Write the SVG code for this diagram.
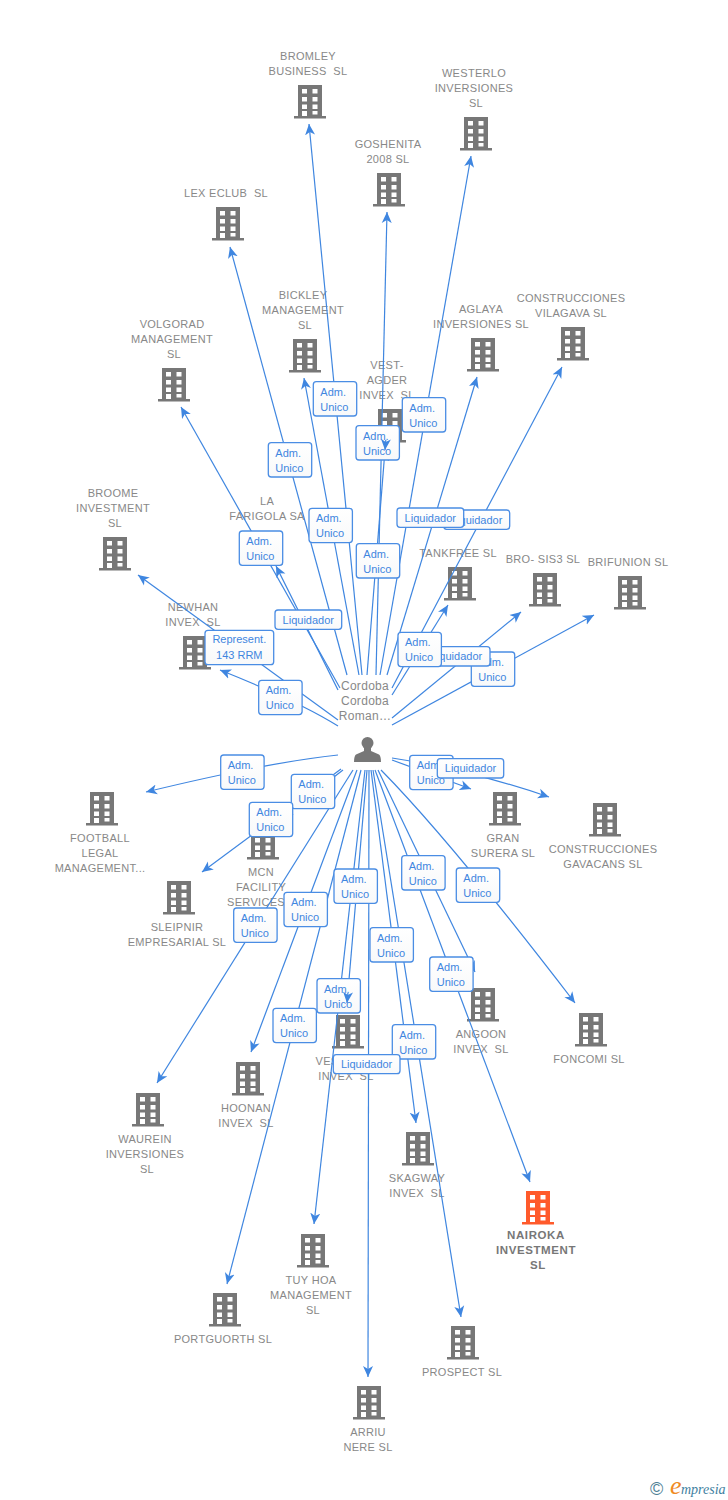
<svg xmlns="http://www.w3.org/2000/svg" width="728" height="1500" viewBox="0 0 728 1500">
<style>
text{font-family:"Liberation Sans",Arial,sans-serif}
.n{font-size:11px;letter-spacing:.3px;fill:#888;text-anchor:middle;white-space:pre}
.c{fill:none;stroke:#3f86e0;stroke-width:1.2}
.c,.a{marker-end:url(#ah)}
.a{fill:none;stroke:#3f86e0;stroke-width:1.2}
.b{fill:url(#bg);stroke:#4a8de4;stroke-width:1.3}
.t{font-size:11px;fill:#3f86e0}
</style>
<defs>
<marker id="ah" markerUnits="userSpaceOnUse" markerWidth="12" markerHeight="12" refX="11" refY="5.5" orient="auto"><path d="M11,5.5 L0,0.5 L3,5.5 L0,10.5 Z" fill="#3f86e0"/></marker>
<linearGradient id="bg" x1="0" y1="0" x2="0" y2="1"><stop offset="0" stop-color="#fff"/><stop offset="1" stop-color="#f8f9fa"/></linearGradient>
<g id="bld"><rect x="-12" y="0" width="24" height="31" fill="currentColor"/><rect x="-16" y="31" width="32" height="2.5" fill="currentColor"/><g fill="#fff"><rect x="-8" y="4" width="5" height="4.5"/><rect x="2.5" y="4" width="5" height="4.5"/><rect x="-8" y="12" width="5" height="4.5"/><rect x="2.5" y="12" width="5" height="4.5"/><rect x="-8" y="19.5" width="5" height="4.5"/><rect x="2.5" y="19.5" width="5" height="4.5"/><rect x="-8" y="26" width="5" height="5"/><rect x="2.5" y="26" width="5" height="3.5"/></g></g>
</defs>
<rect width="728" height="1500" fill="#fff"/>
<g id="nodes" color="#777">
<g id="n-bromley"><use href="#bld" x="310" y="85"/><text class="n" x="308"><tspan x="308" y="60">BROMLEY</tspan><tspan x="308" y="75">BUSINESS  SL</tspan></text></g>
<g id="n-westerlo"><use href="#bld" x="476" y="117"/><text class="n"><tspan x="474" y="77">WESTERLO</tspan><tspan x="474" y="92">INVERSIONES</tspan><tspan x="476" y="107">SL</tspan></text></g>
<g id="n-goshenita"><use href="#bld" x="389" y="173"/><text class="n"><tspan x="388" y="148">GOSHENITA</tspan><tspan x="388" y="163">2008 SL</tspan></text></g>
<g id="n-lex"><use href="#bld" x="228" y="207"/><text class="n" x="226" y="197">LEX ECLUB  SL</text></g>
<g id="n-bickley"><use href="#bld" x="305" y="339"/><text class="n"><tspan x="303" y="299">BICKLEY</tspan><tspan x="303" y="314">MANAGEMENT</tspan><tspan x="305" y="329">SL</tspan></text></g>
<g id="n-aglaya"><use href="#bld" x="483" y="338"/><text class="n"><tspan x="481" y="313">AGLAYA</tspan><tspan x="481" y="328">INVERSIONES SL</tspan></text></g>
<g id="n-vilagava"><use href="#bld" x="573" y="327"/><text class="n"><tspan x="571" y="302">CONSTRUCCIONES</tspan><tspan x="571" y="317">VILAGAVA SL</tspan></text></g>
<g id="n-volgorad"><use href="#bld" x="174" y="368"/><text class="n"><tspan x="172" y="328">VOLGORAD</tspan><tspan x="172" y="343">MANAGEMENT</tspan><tspan x="174" y="358">SL</tspan></text></g>
<g id="n-vest"><use href="#bld" x="390" y="409"/><text class="n"><tspan x="387" y="369">VEST-</tspan><tspan x="387" y="384">AGDER</tspan><tspan x="387" y="399">INVEX  SL</tspan></text></g>
<g id="n-broome"><use href="#bld" x="115" y="537"/><text class="n"><tspan x="113" y="497">BROOME</tspan><tspan x="113" y="512">INVESTMENT</tspan><tspan x="115" y="527">SL</tspan></text></g>
<g id="n-farigola"><use href="#bld" x="267" y="531"/><text class="n"><tspan x="267" y="505">LA</tspan><tspan x="267" y="520">FARIGOLA SA</tspan></text></g>
<g id="n-newhan"><use href="#bld" x="195" y="636"/><text class="n"><tspan x="193" y="611">NEWHAN</tspan><tspan x="193" y="626">INVEX  SL</tspan></text></g>
<g id="n-tankfree"><use href="#bld" x="460" y="567"/><text class="n" x="458" y="557">TANKFREE SL</text></g>
<g id="n-brosis"><use href="#bld" x="545" y="573"/><text class="n" x="543" y="563">BRO- SIS3 SL</text></g>
<g id="n-brifunion"><use href="#bld" x="630" y="576"/><text class="n" x="628" y="566">BRIFUNION SL</text></g>
<g id="n-person"><circle cx="367.500" cy="743" r="6" fill="#777"/><path d="M364,748H371V751L379,754.500Q381,756 381,762H354Q354,756 356,754.500L364,751Z" fill="#777"/><text class="n" style="font-size:12px"><tspan x="365" y="690">Cordoba</tspan><tspan x="365" y="705">Cordoba</tspan><tspan x="365" y="720">Roman…</tspan></text></g>
<g id="n-football"><use href="#bld" x="102" y="792"/><text class="n"><tspan x="100" y="842">FOOTBALL</tspan><tspan x="100" y="857">LEGAL</tspan><tspan x="100" y="872">MANAGEMENT...</tspan></text></g>
<g id="n-mcn"><use href="#bld" x="263" y="826"/><text class="n"><tspan x="261" y="876">MCN</tspan><tspan x="261" y="891">FACILITY</tspan><tspan x="256" y="906">SERVICES</tspan></text></g>
<g id="n-sleipnir"><use href="#bld" x="179" y="881"/><text class="n"><tspan x="177" y="931">SLEIPNIR</tspan><tspan x="177" y="946">EMPRESARIAL SL</tspan></text></g>
<g id="n-gran"><use href="#bld" x="505" y="792"/><text class="n"><tspan x="503" y="842">GRAN</tspan><tspan x="503" y="857">SURERA SL</tspan></text></g>
<g id="n-gavacans"><use href="#bld" x="605" y="803"/><text class="n"><tspan x="603" y="853">CONSTRUCCIONES</tspan><tspan x="603" y="868">GAVACANS SL</tspan></text></g>
<g id="n-foncomi"><use href="#bld" x="591" y="1013"/><text class="n" x="589" y="1063">FONCOMI SL</text></g>
<g id="n-angoon"><use href="#bld" x="483" y="988"/><text class="n"><tspan x="481" y="1038">ANGOON</tspan><tspan x="481" y="1053">INVEX  SL</tspan></text></g>
<g id="n-waurein"><use href="#bld" x="148" y="1093"/><text class="n"><tspan x="145" y="1143">WAUREIN</tspan><tspan x="145" y="1158">INVERSIONES</tspan><tspan x="147" y="1173">SL</tspan></text></g>
<g id="n-hoonan"><use href="#bld" x="248" y="1062"/><text class="n"><tspan x="246" y="1112">HOONAN</tspan><tspan x="246" y="1127">INVEX  SL</tspan></text></g>
<g id="n-ves"><use href="#bld" x="348" y="1015"/><text class="n"><tspan x="327" y="1065">VES</tspan><tspan x="346" y="1080">INVEX  SL</tspan></text></g>
<g id="n-skagway"><use href="#bld" x="418" y="1132"/><text class="n"><tspan x="417" y="1182">SKAGWAY</tspan><tspan x="417" y="1197">INVEX  SL</tspan></text></g>
<g id="n-nairoka" color="#ff5a2b"><use href="#bld" x="538" y="1191"/><text class="n" style="font-weight:bold;fill:#777;font-size:11.5px;letter-spacing:.6px"><tspan x="536" y="1239">NAIROKA</tspan><tspan x="536" y="1254">INVESTMENT</tspan><tspan x="538" y="1269">SL</tspan></text></g>
<g id="n-tuyhoa"><use href="#bld" x="313" y="1234"/><text class="n"><tspan x="311" y="1284">TUY HOA</tspan><tspan x="311" y="1299">MANAGEMENT</tspan><tspan x="313" y="1314">SL</tspan></text></g>
<g id="n-portguorth"><use href="#bld" x="225" y="1293"/><text class="n" x="223" y="1343">PORTGUORTH SL</text></g>
<g id="n-prospect"><use href="#bld" x="463" y="1326"/><text class="n" x="462" y="1376">PROSPECT SL</text></g>
<g id="n-arriu"><use href="#bld" x="369" y="1386"/><text class="n"><tspan x="368" y="1436">ARRIU</tspan><tspan x="368" y="1451">NERE SL</tspan></text></g>
</g>
<g id="connectors">
<path class="c" d="M362,675L309,124"/>
<path class="c" d="M376,675L387,212"/>
<path class="c" d="M380,675L471,156"/>
<path class="c" d="M347,675L230,247"/>
<path class="c" d="M359,675L304,378"/>
<path class="c" d="M367,675L385,450"/>
<path class="c" d="M387,675L477,377"/>
<path class="c" d="M392,688L562,367"/>
<path class="c" d="M392,695L448,605"/>
<path class="c" d="M392,718L521,612"/>
<path class="c" d="M392,725L594,615"/>
<path class="c" d="M340,688L181,407"/>
<path class="c" d="M338,690L276,566"/>
<path class="c" d="M338,720L138,575"/>
<path class="c" d="M338,726Q300,702 220,670"/>
<path class="c" d="M338,755Q270,762 146,792"/>
<path class="c" d="M343,770L282,817"/>
<path class="c" d="M341,769L202,872"/>
<path class="c" d="M353,770L157,1083"/>
<path class="c" d="M357,770L251,1052"/>
<path class="c" d="M361,770L227,1284"/>
<path class="c" d="M365,770L314,1224"/>
<path class="c" d="M367,770L347,1003"/>
<path class="c" d="M369,770L368,1377"/>
<path class="c" d="M371,770L416,1123"/>
<path class="c" d="M373,770L461,1317"/>
<path class="c" d="M375,770L530,1182"/>
<path class="c" d="M378,770L475,972"/>
<path class="c" d="M381,770Q450,840 575,1003"/>
<path class="c" d="M392,760L471,789"/>
<path class="c" d="M392,758Q470,770 549,797"/>
</g>
<g id="edge-labels">
<g><rect class="b" x="443.700" y="510" width="66" height="19.300" rx="3"/><text class="t" x="476.700" y="523.500" text-anchor="middle">Liquidador</text></g>
<g><rect class="b" x="397" y="508" width="66.700" height="19.300" rx="3"/><text class="t" x="430.300" y="521.500" text-anchor="middle">Liquidador</text></g>
<g><rect class="b" x="275" y="610" width="66.700" height="19.300" rx="3"/><text class="t" x="308.300" y="623.500" text-anchor="middle">Liquidador</text></g>
<g><rect class="b" x="205" y="630.300" width="68.700" height="34.400" rx="3"/><text class="t" x="239.300" y="643" text-anchor="middle">Represent.</text><text class="t" x="239.300" y="658.500" text-anchor="middle">143 RRM</text></g>
<g><rect class="b" x="313.300" y="381.700" width="43.400" height="34.300" rx="3"/><text class="t" x="320.300" y="395.700">Adm.</text><text class="t" x="320.300" y="410.700">Unico</text></g>
<g><rect class="b" x="402.300" y="397.700" width="43.400" height="34.300" rx="3"/><text class="t" x="409.300" y="411.700">Adm.</text><text class="t" x="409.300" y="426.700">Unico</text></g>
<g><rect class="b" x="356" y="425.700" width="43.400" height="34.300" rx="3"/><text class="t" x="363" y="439.700">Adm.</text><text class="t" x="363" y="454.700">Unico</text></g>
<g><rect class="b" x="268.300" y="442.700" width="43.400" height="34.300" rx="3"/><text class="t" x="275.300" y="456.700">Adm.</text><text class="t" x="275.300" y="471.700">Unico</text></g>
<g><rect class="b" x="309" y="508.300" width="43.400" height="34.300" rx="3"/><text class="t" x="316" y="522.300">Adm.</text><text class="t" x="316" y="537.300">Unico</text></g>
<g><rect class="b" x="239.300" y="531" width="43.400" height="34.300" rx="3"/><text class="t" x="246.300" y="545">Adm.</text><text class="t" x="246.300" y="560">Unico</text></g>
<g><rect class="b" x="356.300" y="543.700" width="43.400" height="34.300" rx="3"/><text class="t" x="363.300" y="557.700">Adm.</text><text class="t" x="363.300" y="572.700">Unico</text></g>
<g><rect class="b" x="258.700" y="680.300" width="43.400" height="34.300" rx="3"/><text class="t" x="265.700" y="694.300">Adm.</text><text class="t" x="265.700" y="709.300">Unico</text></g>
<g><rect class="b" x="471.300" y="652" width="43.400" height="34.300" rx="3"/><text class="t" x="478.300" y="666">Adm.</text><text class="t" x="478.300" y="681">Unico</text></g>
<g><rect class="b" x="423" y="646.700" width="67" height="19.300" rx="3"/><text class="t" x="456.500" y="660.200" text-anchor="middle">Liquidador</text></g>
<g><rect class="b" x="398" y="632.300" width="43.400" height="34.300" rx="3"/><text class="t" x="405" y="646.300">Adm.</text><text class="t" x="405" y="661.300">Unico</text></g>
<g><rect class="b" x="220.700" y="755" width="43.400" height="34.300" rx="3"/><text class="t" x="227.700" y="769">Adm.</text><text class="t" x="227.700" y="784">Unico</text></g>
<g><rect class="b" x="291.300" y="774.300" width="43.400" height="34.300" rx="3"/><text class="t" x="298.300" y="788.300">Adm.</text><text class="t" x="298.300" y="803.300">Unico</text></g>
<g><rect class="b" x="249.300" y="802.300" width="43.400" height="34.300" rx="3"/><text class="t" x="256.300" y="816.300">Adm.</text><text class="t" x="256.300" y="831.300">Unico</text></g>
<g><rect class="b" x="409.700" y="755.300" width="43.400" height="34.300" rx="3"/><text class="t" x="416.700" y="769.300">Adm.</text><text class="t" x="416.700" y="784.300">Unico</text></g>
<g><rect class="b" x="437.300" y="758.700" width="66.400" height="19.300" rx="3"/><text class="t" x="470.500" y="772.200" text-anchor="middle">Liquidador</text></g>
<g><rect class="b" x="334" y="869" width="43.400" height="34.300" rx="3"/><text class="t" x="341" y="883">Adm.</text><text class="t" x="341" y="898">Unico</text></g>
<g><rect class="b" x="401.700" y="855.700" width="43.400" height="34.300" rx="3"/><text class="t" x="408.700" y="869.700">Adm.</text><text class="t" x="408.700" y="884.700">Unico</text></g>
<g><rect class="b" x="456.300" y="868" width="43.400" height="34.300" rx="3"/><text class="t" x="463.300" y="882">Adm.</text><text class="t" x="463.300" y="897">Unico</text></g>
<g><rect class="b" x="284" y="892.300" width="43.400" height="34.300" rx="3"/><text class="t" x="291" y="906.300">Adm.</text><text class="t" x="291" y="921.300">Unico</text></g>
<g><rect class="b" x="233.700" y="908" width="43.400" height="34.300" rx="3"/><text class="t" x="240.700" y="922">Adm.</text><text class="t" x="240.700" y="937">Unico</text></g>
<g><rect class="b" x="370" y="927.700" width="43.400" height="34.300" rx="3"/><text class="t" x="377" y="941.700">Adm.</text><text class="t" x="377" y="956.700">Unico</text></g>
<g><rect class="b" x="429.700" y="957" width="43.400" height="34.300" rx="3"/><text class="t" x="436.700" y="971">Adm.</text><text class="t" x="436.700" y="986">Unico</text></g>
<g><rect class="b" x="317" y="978.700" width="43.400" height="34.300" rx="3"/><text class="t" x="324" y="992.700">Adm.</text><text class="t" x="324" y="1007.700">Unico</text></g>
<g><rect class="b" x="273" y="1008.300" width="43.400" height="34.300" rx="3"/><text class="t" x="280" y="1022.300">Adm.</text><text class="t" x="280" y="1037.300">Unico</text></g>
<g><rect class="b" x="392.300" y="1024.700" width="43.400" height="34.300" rx="3"/><text class="t" x="399.300" y="1038.700">Adm.</text><text class="t" x="399.300" y="1053.700">Unico</text></g>
<g><rect class="b" x="333.300" y="1054.700" width="66.700" height="19" rx="3"/><text class="t" x="366.600" y="1068" text-anchor="middle">Liquidador</text></g>
</g>
<g id="connector-tips">
<path class="a" d="M385.800,440L385,450"/>
<path class="a" d="M347.900,993L347,1003"/>
</g>
<g id="logo">
<text x="650" y="1495" font-size="18" fill="#4f7f95">©</text>
<text x="670" y="1494" font-size="26" font-style="italic" style="font-family:'Liberation Serif',serif" fill="#f08a24">e</text>
<text x="681" y="1494" font-size="14" font-style="italic" style="font-family:'Liberation Serif',serif" fill="#3f7f9f">mpresia</text>
</g>
</svg>
